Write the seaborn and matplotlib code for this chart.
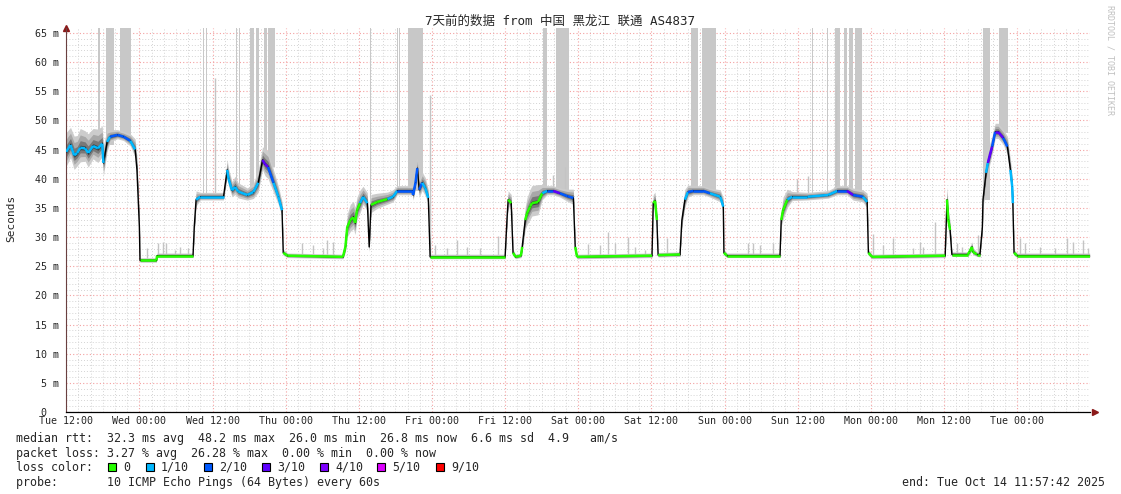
import numpy as np
import matplotlib
matplotlib.use("Agg")
import matplotlib.pyplot as plt
from matplotlib.collections import LineCollection
import seaborn as sns

# hours after Tue 12:00, median rtt (ms), loss class, smoke half-width (ms)
hours = [0.0, 0.7, 1.3, 1.8, 2.3, 3.1, 3.6, 4.4, 5.2, 5.9, 6.1, 6.7, 7.2, 8.4, 9.4,
         10.5, 11.3, 11.6, 12.0, 12.1, 14.8, 14.9, 20.8, 21.0, 21.3, 22.0, 25.8, 26.4,
         26.6, 27.2, 27.7, 28.2, 29.7, 30.7, 31.5, 32.2, 32.6, 33.1, 34.0, 34.8, 35.4,
         35.6, 36.3, 45.4, 45.8, 46.1, 46.6, 47.1, 47.4, 47.7, 48.2, 48.7, 49.4, 49.7,
         50.0, 51.0, 52.7, 53.6, 54.3, 56.8, 56.9, 57.3, 57.6, 57.9, 58.4, 58.9, 59.4,
         59.7, 72.0, 72.3, 72.5, 73.0, 73.3, 73.7, 74.6, 74.8, 75.3, 75.6, 76.1, 76.4,
         77.4, 78.1, 78.9, 79.9, 81.0, 82.2, 83.2, 83.5, 83.8, 96.1, 96.3, 96.6, 96.9,
         97.1, 100.7, 101.0, 101.5, 102.0, 102.9, 104.5, 105.6, 107.3, 107.8, 107.9,
         108.4, 117.1, 117.3, 117.6, 118.3, 119.1, 121.6, 125.0, 126.5, 128.1, 129.1,
         130.7, 131.4, 131.6, 132.2, 144.2, 144.5, 144.7, 145.0, 145.3, 147.9, 148.2,
         148.6, 148.7, 149.4, 149.9, 150.3, 150.4, 150.9, 151.2, 151.9, 152.4, 152.9,
         153.7, 154.4, 154.9, 155.2, 155.3, 155.5, 156.0, 167.9]
median_ms = [44.6, 45.8, 44.0, 44.4, 45.3, 45.2, 44.4, 45.6, 45.2, 46.0, 42.7, 46.3, 47.2,
             47.5, 47.2, 46.5, 45.0, 41.5, 31.7, 26.0, 26.0, 26.8, 26.8, 31.7, 36.4, 36.9,
             36.9, 41.5, 40.1, 38.0, 38.6, 37.8, 37.2, 37.7, 39.3, 43.2, 42.5, 42.0, 39.3,
             36.9, 34.6, 27.3, 26.8, 26.6, 28.3, 31.7, 32.9, 33.4, 32.4, 34.6, 35.8, 36.9,
             35.8, 28.3, 35.5, 36.0, 36.5, 36.9, 37.9, 37.9, 37.2, 39.3, 41.8, 38.1, 39.3,
             38.4, 36.7, 26.6, 26.6, 32.9, 36.4, 35.8, 27.3, 26.6, 26.8, 28.3, 32.9, 34.1,
             35.2, 35.8, 36.0, 37.5, 37.9, 37.9, 37.5, 37.0, 36.7, 28.3, 26.6, 26.8, 35.8,
             36.2, 32.9, 26.9, 27.0, 32.9, 36.4, 37.7, 37.9, 37.9, 37.5, 36.9, 35.2, 27.3,
             26.8, 26.8, 32.9, 34.6, 36.4, 36.9, 36.9, 37.2, 37.9, 37.9, 37.2, 36.9, 36.0,
             27.3, 26.6, 26.8, 36.4, 33.0, 31.2, 27.0, 27.0, 27.5, 28.3, 27.5, 27.0, 27.0,
             31.7, 36.4, 41.0, 42.7, 45.5, 48.0, 48.0, 47.0, 45.5, 41.5, 38.6, 35.8, 27.3,
             26.8, 26.8]
loss_idx = [1, 1, 1, 1, 1, 1, 1, 1, 1, 1, 1, 1, 2, 2, 2, 1, 1, 1, 0, 0, 0, 0, 0, 0, 1, 1,
            1, 1, 1, 1, 1, 1, 1, 1, 1, 3, 3, 2, 1, 1, 0, 0, 0, 0, 0, 0, 0, 0, 0, 0, 1, 1,
            0, 0, 0, 0, 1, 1, 2, 2, 2, 2, 2, 2, 1, 1, 1, 0, 0, 0, 0, 0, 0, 0, 0, 0, 0, 0,
            0, 0, 0, 1, 2, 3, 2, 2, 1, 0, 0, 0, 0, 0, 0, 0, 0, 0, 1, 2, 2, 2, 1, 1, 1, 0,
            0, 0, 0, 0, 1, 1, 1, 1, 2, 3, 2, 1, 1, 0, 0, 0, 0, 0, 0, 0, 0, 0, 0, 0, 0, 1,
            1, 1, 1, 3, 2, 3, 3, 2, 1, 1, 1, 1, 0, 0, 0]
smoke_ms = [2.2, 2.0, 2.2, 2.0, 2.2, 2.0, 2.2, 2.0, 2.2, 2.0, 2.0, 1.5, 0.8, 0.6, 0.6,
            0.8, 1.2, 1.5, 1.0, 0.3, 0.3, 0.3, 0.3, 1.0, 1.0, 0.5, 0.5, 1.2, 1.2, 1.0,
            1.2, 1.0, 0.8, 1.0, 1.5, 1.5, 1.8, 1.8, 1.5, 1.2, 1.0, 0.4, 0.3, 0.3, 0.8,
            1.5, 1.8, 1.8, 1.8, 1.5, 1.5, 1.2, 1.2, 0.8, 1.2, 1.0, 0.8, 0.8, 0.6, 0.6,
            0.8, 1.0, 1.2, 1.2, 1.2, 1.2, 1.0, 0.3, 0.3, 1.0, 1.0, 1.0, 0.4, 0.3, 0.3,
            0.8, 1.5, 1.8, 2.0, 2.0, 2.0, 1.0, 0.6, 0.6, 0.6, 0.8, 1.0, 0.4, 0.3, 0.3,
            1.0, 1.0, 0.8, 0.3, 0.3, 1.0, 1.2, 0.8, 0.6, 0.6, 0.6, 0.8, 1.0, 0.4, 0.3,
            0.3, 1.0, 1.5, 1.2, 0.6, 0.5, 0.5, 0.6, 0.6, 0.8, 0.8, 1.0, 0.4, 0.3, 0.3,
            1.5, 1.2, 1.0, 0.3, 0.3, 0.5, 0.6, 0.5, 0.3, 0.4, 1.0, 1.5, 1.5, 1.5, 1.2,
            1.0, 1.0, 1.0, 1.2, 1.2, 1.2, 1.0, 0.4, 0.3, 0.3]

# grey columns running to the top (lost pings)
col_start = [5.2, 6.6, 8.9, 9.5, 22.5, 23.0, 27.9, 28.4, 30.2, 31.2, 32.5, 33.1, 49.9,
             54.3, 54.6, 56.1, 78.2, 80.4, 102.5, 104.3, 122.4, 124.8, 126.1, 127.6,
             128.4, 129.4, 150.4, 153.1]
col_width = [0.4, 1.3, 0.5, 1.2, 0.17, 0.17, 0.17, 0.17, 0.6, 0.5, 0.5, 1.2, 0.17,
             0.2, 0.2, 2.5, 0.7, 2.1, 1.2, 2.3, 0.17, 0.17, 0.9, 0.5, 0.7, 1.2, 1.2, 1.4]

# single grey spikes above the smoke
spike_h = [13.3, 15.1, 15.9, 16.4, 17.9, 18.7, 20.0, 24.4, 38.7, 40.5, 42.2, 42.8, 43.8,
           59.7, 60.5, 62.5, 64.1, 65.8, 67.9, 70.9, 79.9, 81.8, 85.6, 87.6, 88.9, 90.1,
           92.2, 93.3, 95.0, 98.6, 111.9, 112.7, 113.8, 116.0, 119.9, 121.7, 126.3,
           132.4, 134.0, 135.7, 138.9, 140.1, 140.6, 142.6, 146.2, 147.0, 149.6, 156.5,
           157.3, 159.8, 162.2, 164.2, 165.2, 166.8, 167.6]
spike_top = [28.1, 29.0, 29.2, 28.9, 27.8, 28.3, 28.1, 57.3, 28.9, 28.6, 28.1, 29.5, 29.2,
             54.4, 28.6, 28.1, 29.5, 28.3, 28.1, 30.2, 40.6, 42.0, 28.8, 28.6, 30.9, 28.9,
             30.0, 28.3, 27.8, 29.8, 28.9, 28.9, 28.6, 28.9, 39.9, 40.4, 56.0, 30.6, 28.6,
             29.8, 28.1, 29.2, 28.3, 32.6, 28.9, 28.3, 30.3, 29.8, 28.9, 28.3, 28.1, 29.8,
             29.2, 29.5, 28.1]

tick_hours = [0, 12, 24, 36, 48, 60, 72, 84, 96, 108, 120, 132, 144, 156]
tick_labels = ["Tue 12:00", "Wed 00:00", "Wed 12:00", "Thu 00:00", "Thu 12:00",
               "Fri 00:00", "Fri 12:00", "Sat 00:00", "Sat 12:00", "Sun 00:00",
               "Sun 12:00", "Mon 00:00", "Mon 12:00", "Tue 00:00"]

loss_labels = ["0", "1/10", "2/10", "3/10", "4/10", "5/10", "9/10"]
loss_colors = ["#26ff00", "#00b8ff", "#0059ff", "#5e00ff", "#7e00ff", "#dd00ff", "#ff0000"]

sns.set_style("white")
mono = "DejaVu Sans Mono"
plt.rcParams["font.family"] = [mono, "Noto Sans CJK SC"]

W, H = 1121, 494
fig = plt.figure(figsize=(W / 100, H / 100), dpi=100)
ax = fig.add_axes([66 / W, (H - 412) / H, (1090 - 66) / W, (412 - 28) / H])

h = np.array(hours)
med = np.array(median_ms)
sm = np.array(smoke_ms)

# smoke
ax.fill_between(h, med - sm * 1.1, med + sm * 1.5, color="#cccccc", lw=0, zorder=2)
ax.fill_between(h, med - sm * 0.7, med + sm * 1.0, color="#a8a8a8", lw=0, zorder=2)
ax.fill_between(h, med - sm * 0.4, med + sm * 0.55, color="#787878", lw=0, zorder=2)
ax.fill_between(h, med - sm * 0.15, med + sm * 0.2, color="#404040", lw=0, zorder=2)

# loss columns and spikes
col_base = np.interp(np.array(col_start), h, med)
ax.bar(col_start, 65.83 - col_base, bottom=col_base, width=col_width, align="edge",
       color="#c8c8c8", lw=0, zorder=1.5)
sp_base = np.interp(np.array(spike_h), h, med)
ax.vlines(spike_h, sp_base, spike_top, color="#c4c4c4", lw=1, zorder=1.5)

# median line: black, then loss colour on the flatter parts
sns.lineplot(x=h, y=med, color="black", lw=1.0, ax=ax, estimator=None, sort=False,
             zorder=3)
segs, cols = [], []
for i in range(len(h) - 1):
    if abs(med[i + 1] - med[i]) < 3.5:
        segs.append([(h[i], med[i]), (h[i + 1], med[i + 1])])
        cols.append(loss_colors[loss_idx[i]])
ax.add_collection(LineCollection(segs, colors=cols, linewidths=1.8, zorder=4,
                                 capstyle="butt"))

ax.set_xlim(-0.04, 167.96)
ax.set_ylim(0, 65.83)
ax.set_xticks(tick_hours)
ax.set_xticklabels(tick_labels, fontsize=7.2, family=mono)
ax.set_xticks(np.arange(0, 168, 2), minor=True)
ax.set_yticks(np.arange(0, 66, 5))
ax.set_yticklabels(["0  "] + [f"{v} m" for v in range(5, 66, 5)], fontsize=7.2,
                   family=mono)
ax.set_yticks(np.arange(0, 66, 1), minor=True)
ax.tick_params(which="both", length=0)
ax.tick_params(axis="x", pad=3)
ax.tick_params(axis="y", pad=5)
ax.grid(which="minor", color="#d4d4d4", ls=(0, (1, 2)), lw=0.7)
ax.grid(which="major", color="#f4a0a0", ls=(0, (1, 2)), lw=0.8)
ax.set_axisbelow(True)
for s in ["top", "right"]:
    ax.spines[s].set_visible(False)
ax.spines["left"].set_color("#6a4040")
ax.spines["left"].set_linewidth(0.8)
ax.spines["bottom"].set_color("black")
ax.spines["bottom"].set_linewidth(0.9)
ax.plot([0], [1.0], marker="^", color="#8b1a1a", ms=4, transform=ax.transAxes,
        clip_on=False)
ax.plot([1.005], [0], marker=">", color="#8b1a1a", ms=4, transform=ax.transAxes,
        clip_on=False)


def ftext(x, y, s, **kw):
    kw.setdefault("family", mono)
    kw.setdefault("fontsize", 8.4)
    kw.setdefault("va", "center")
    fig.text(x / W, 1 - y / H, s, **kw)


ftext(560, 21, "7天前的数据 from 中国 黑龙江 联通 AS4837", ha="center", fontsize=9,
      family=[mono, "Noto Sans CJK SC"])
ftext(11, 218, "Seconds", ha="center", rotation=90, fontsize=8)
ftext(1110, 60, "RRDTOOL / TOBI OETIKER", ha="center", rotation=270, fontsize=6,
      color="#c0c0c0")

ftext(16, 438, "median rtt:  32.3 ms avg  48.2 ms max  26.0 ms min  26.8 ms now  "
               "6.6 ms sd  4.9   am/s")
ftext(16, 453, "packet loss: 3.27 % avg  26.28 % max  0.00 % min  0.00 % now")
ftext(16, 467, "loss color:")
box_x = [108, 146, 204, 262, 320, 377, 436]
for bx, lab, c in zip(box_x, loss_labels, loss_colors):
    fig.patches.append(plt.Rectangle((bx / W, 1 - 471 / H), 8 / W, 8 / H,
                                     transform=fig.transFigure, facecolor=c,
                                     edgecolor="black", lw=0.8))
    ftext(bx + 15, 467, lab)
ftext(16, 482, "probe:       10 ICMP Echo Pings (64 Bytes) every 60s")
ftext(1105, 482, "end: Tue Oct 14 11:57:42 2025", ha="right")

fig.savefig("out.png", dpi=100, facecolor="white")
